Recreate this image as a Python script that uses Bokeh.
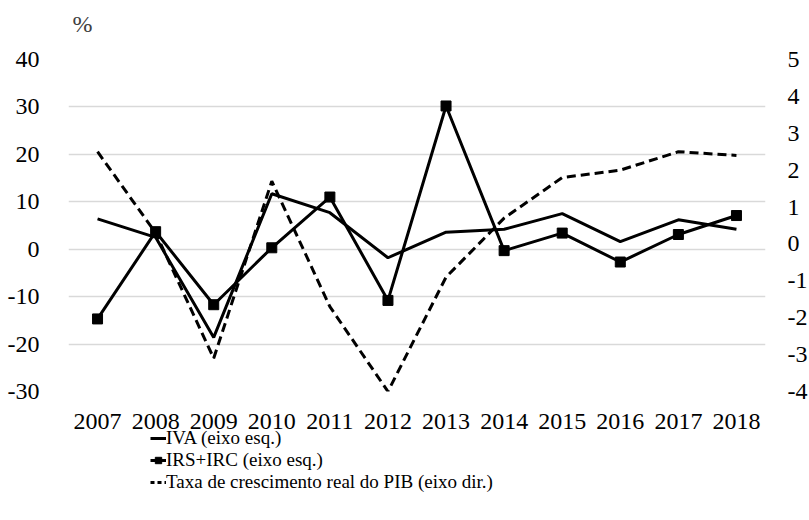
from bokeh.plotting import figure
from bokeh.models import Range1d, LinearAxis, Legend, LegendItem, FixedTicker, FactorRange, PrintfTickFormatter, Title
from bokeh.layouts import column
from bokeh.embed import file_html
from bokeh.resources import INLINE

years = ["2007", "2008", "2009", "2010", "2011", "2012", "2013", "2014", "2015", "2016", "2017", "2018"]
iva = [6.4, 2.5, -18.6, 11.7, 7.7, -1.8, 3.6, 4.2, 7.5, 1.6, 6.2, 4.2]
irs_irc = [-14.7, 3.7, -11.7, 0.3, 11.0, -10.8, 30.2, -0.3, 3.4, -2.7, 3.1, 7.1]
pib = [2.5, 0.3, -3.1, 1.7, -1.7, -4.0, -0.9, 0.7, 1.8, 2.0, 2.5, 2.4]
left_ticks = [-30, -20, -10, 0, 10, 20, 30, 40]
right_ticks = [-4, -3, -2, -1, 0, 1, 2, 3, 4, 5]
labels = ["IVA (eixo esq.)", "IRS+IRC (eixo esq.)", "Taxa de crescimento real do PIB (eixo dir.)"]
unit_label = "%"

FONT = "Liberation Serif"
TICK_SIZE = "24px"

p = figure(frame_width=697, frame_height=332, x_range=FactorRange(*years), y_range=Range1d(-30, 40),
           output_backend="svg", toolbar_location=None,
           min_border_left=68, min_border_right=44, min_border_top=59, min_border_bottom=45)
p.extra_y_ranges = {"pib": Range1d(-4, 5)}

# unit label as the (outermost) title, with a tiny spacer title between it and the frame
p.title.text = unit_label
p.title.text_font = FONT
p.title.text_font_size = "24px"
p.title.text_font_style = "normal"
p.title.text_color = "#404040"
p.title.align = "left"
p.title.offset = 4
p.title.standoff = 0
p.add_layout(Title(text=" ", text_font_size="1px", standoff=20), "above")

p.outline_line_color = None
p.xgrid.grid_line_color = None
p.ygrid.grid_line_color = "#d9d9d9"
p.ygrid.grid_line_width = 1.5
p.yaxis.ticker = FixedTicker(ticks=left_ticks)
p.yaxis.formatter = PrintfTickFormatter(format="%d")

for ax in [p.xaxis[0], p.yaxis[0]]:
    ax.axis_line_color = None
    ax.major_tick_line_color = None
    ax.minor_tick_line_color = None
    ax.major_label_text_font = FONT
    ax.major_label_text_font_size = TICK_SIZE
    ax.major_label_text_color = "#000000"
p.yaxis[0].major_label_standoff = 23
p.xaxis[0].major_label_standoff = 16

rax = LinearAxis(y_range_name="pib", ticker=FixedTicker(ticks=right_ticks),
                 formatter=PrintfTickFormatter(format="%d"))
rax.axis_line_color = None
rax.major_tick_line_color = None
rax.minor_tick_line_color = None
rax.major_label_text_font = FONT
rax.major_label_text_font_size = TICK_SIZE
rax.major_label_text_color = "#000000"
rax.major_label_text_align = "left"
rax.major_label_standoff = 16
p.add_layout(rax, "right")

p.line(years, iva, line_color="black", line_width=3)
p.line(years, irs_irc, line_color="black", line_width=3)
p.scatter(years, irs_irc, marker="square", size=10, fill_color="black", line_color="black")
p.line(years, pib, y_range_name="pib", line_color="black", line_width=3, line_dash="9 5")

# legend panel below the chart; its renderers carry the series but lie outside its view
lg = figure(frame_width=697, frame_height=66, x_range=FactorRange(*years), y_range=Range1d(100, 101),
            output_backend="svg", toolbar_location=None, x_axis_type=None, y_axis_type=None,
            min_border_left=68, min_border_right=44, min_border_top=0, min_border_bottom=0,
            margin=(-7, 0, 0, 0))
lg.outline_line_color = None
lg.background_fill_alpha = 0
lg.border_fill_alpha = 0
lg.xgrid.visible = False
lg.ygrid.visible = False
d_iva = lg.line(years, iva, line_color="black", line_width=3)
d_irs = lg.line(years, irs_irc, line_color="black", line_width=3)
d_irs_m = lg.scatter(years, irs_irc, marker="square", size=8, fill_color="black", line_color="black")
d_pib = lg.line(years, pib, line_color="black", line_width=3, line_dash="4 3")

legend = Legend(items=[
    LegendItem(label=labels[0], renderers=[d_iva]),
    LegendItem(label=labels[1], renderers=[d_irs, d_irs_m]),
    LegendItem(label=labels[2], renderers=[d_pib]),
], location=(82, 2), orientation="vertical")
legend.label_text_font = FONT
legend.label_text_font_size = "19px"
legend.label_text_color = "#000000"
legend.label_standoff = 0
legend.glyph_width = 16
legend.glyph_height = 20
legend.label_height = 20
legend.spacing = 0
legend.padding = 0
legend.margin = 0
legend.border_line_color = None
legend.background_fill_alpha = 0
lg.add_layout(legend)

open("out.html", "w").write(file_html(column(p, lg), INLINE))
